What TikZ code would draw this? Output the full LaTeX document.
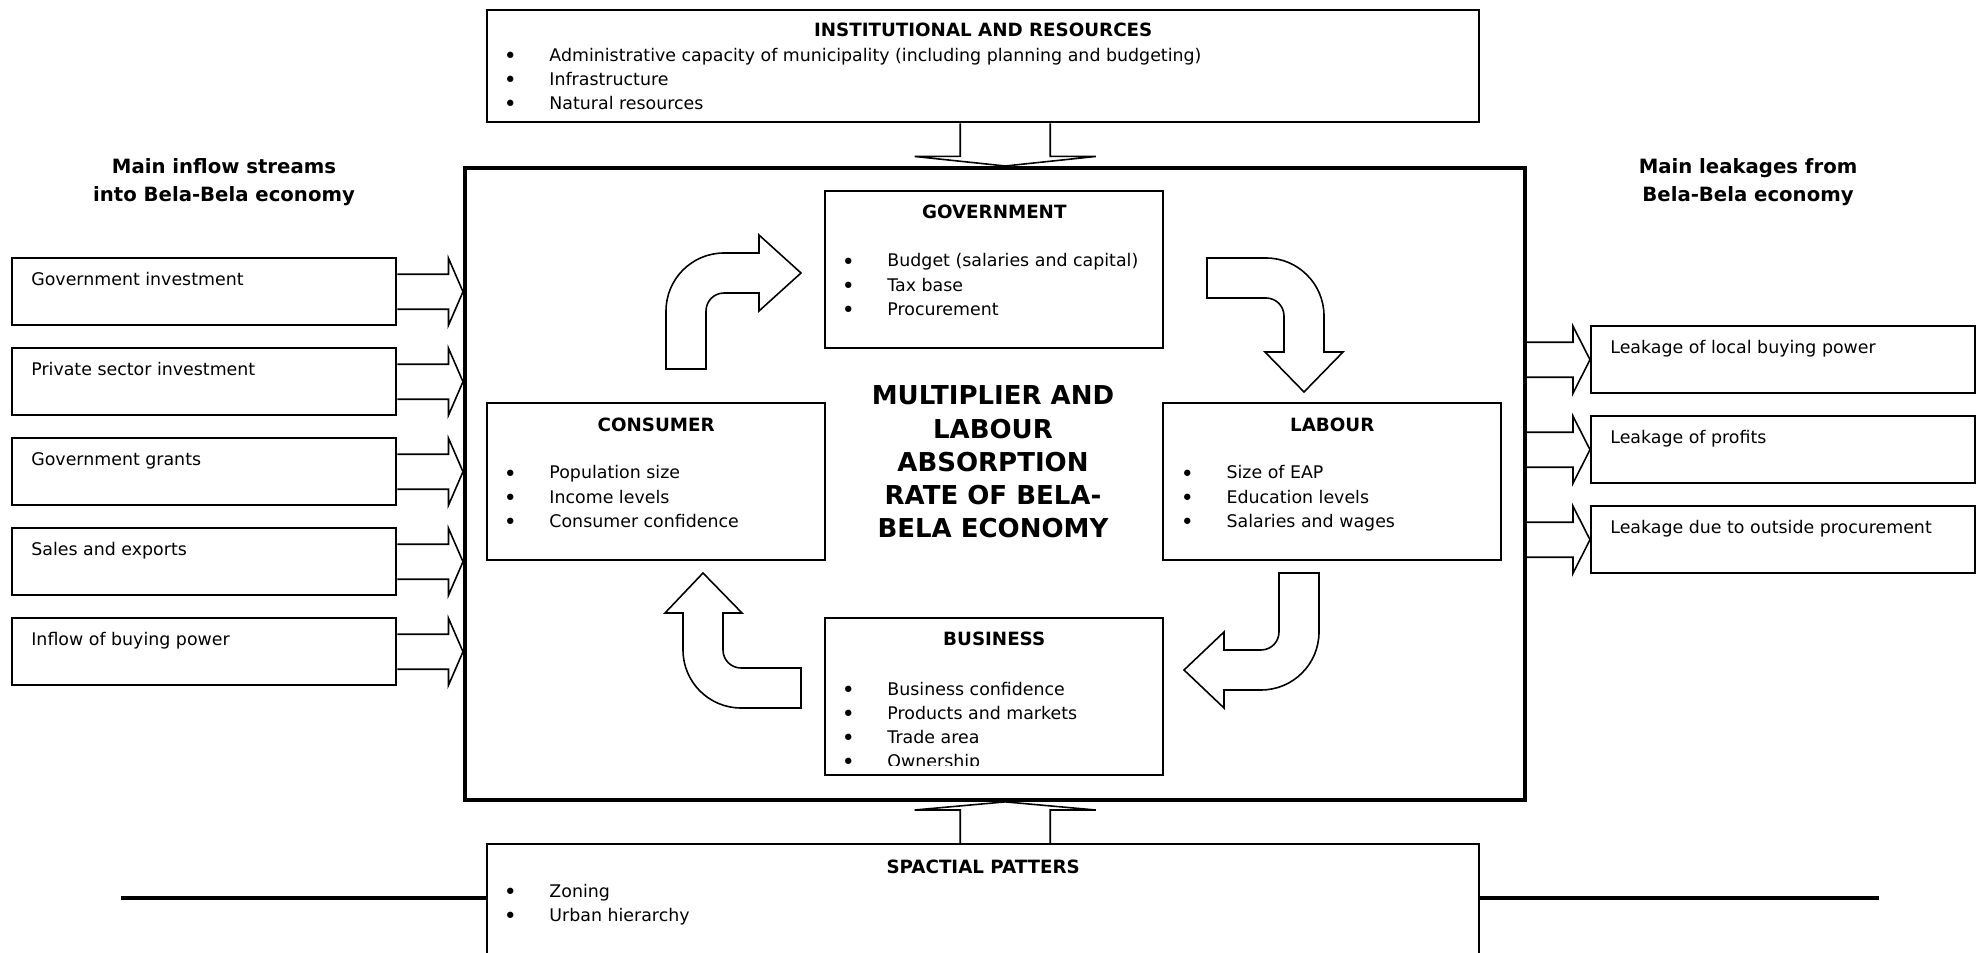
\documentclass[tikz,border=0pt]{standalone}
\usepackage{fontspec}
\setmainfont{DejaVu Sans}
\usetikzlibrary{calc}

\tikzset{
  box/.style={draw, line width=1.4pt, inner sep=0pt, anchor=north west},
  sidebox/.style={box, minimum width=76.8mm, minimum height=13.4mm},
  midbox/.style={box, minimum width=67.6mm, minimum height=31.4mm},
  widebox/.style={box, minimum width=198.4mm, minimum height=22.4mm},
  bigarrow/.style={draw, line width=0.9pt, line join=miter},
  boxtitle/.style={inner sep=0pt, anchor=base, font=\fontsize{10.4}{12.5}\selectfont\bfseries},
  boxtext/.style={inner sep=0pt, anchor=base west, font=\fontsize{9.9}{13.66}\selectfont},
  header/.style={inner sep=0pt, anchor=base, font=\fontsize{11.2}{15.8}\selectfont\bfseries},
}
\newcommand{\bul}[1]{\makebox[26pt][l]{\raisebox{-1.3pt}{\fontsize{12.5}{12.5}\selectfont\textbullet}}#1}
\newcommand{\blist}[1]{\begin{tabular}[t]{@{}l@{}}#1\end{tabular}}

\begin{document}
\begin{tikzpicture}[x=0.2mm,y=-0.2mm]
\useasboundingbox (0,0) rectangle (1984,953);
\clip (0,0) rectangle (1984,953);

% central frame
\node[box, line width=2.2pt, minimum width=212mm, minimum height=126.4mm] (main) at (463,166) {};
\node[inner sep=0pt, anchor=base, font=\fontsize{14.8}{18.9}\selectfont\bfseries] (mult) at (993,405)
  {\begin{tabular}[t]{@{}c@{}}MULTIPLIER AND\\LABOUR\\ABSORPTION\\RATE OF BELA-\\BELA ECONOMY\end{tabular}};

% institutional box on top
\node[widebox] (inst) at (486,9) {};
\node[boxtitle] (instt) at ($(inst.north)+(0,27.6)$) {INSTITUTIONAL AND RESOURCES};
\node[boxtext] (instl) at ($(inst.north west)+(17.4,52.7)$)
  {\blist{\bul{Administrative capacity of municipality (including planning and budgeting)}\\
          \bul{Infrastructure}\\ \bul{Natural resources}}};

% spatial box at the bottom
\coordinate (ll) at (121,898);
\coordinate (rr) at (1879,898);
\node[widebox, minimum height=40mm] (spat) at (486,843) {};
\draw[line width=2.2pt] (ll) -- (ll -| spat.west);
\draw[line width=2.2pt] (rr) -- (rr -| spat.east);
\node[boxtitle] (spatt) at ($(spat.north)+(0,30.6)$) {SPACTIAL PATTERS};
\node[boxtext] (spatl) at ($(spat.north west)+(17.4,54)$)
  {\blist{\bul{Zoning}\\ \bul{Urban hierarchy}}};

% the four sectors
\node[midbox] (gov) at (824,190) {};
\node[boxtitle] (govt) at ($(gov.north)+(0,29)$) {GOVERNMENT};
\node[boxtext] (govl) at ($(gov.north west)+(17.4,77)$)
  {\blist{\bul{Budget (salaries and capital)}\\ \bul{Tax base}\\ \bul{Procurement}}};

\node[midbox] (cons) at (486,402) {};
\node[boxtitle] (const) at ($(cons.north)+(0,29.6)$) {CONSUMER};
\node[boxtext] (consl) at ($(cons.north west)+(17.4,77)$)
  {\blist{\bul{Population size}\\ \bul{Income levels}\\ \bul{Consumer confidence}}};

\node[midbox] (lab) at (1162,402) {};
\node[boxtitle] (labt) at ($(lab.north)+(0,29.6)$) {LABOUR};
\node[boxtext] (labl) at ($(lab.north west)+(18.5,77)$)
  {\blist{\bul{Size of EAP}\\ \bul{Education levels}\\ \bul{Salaries and wages}}};

\node[midbox] (bus) at (824,617) {};
\node[boxtitle] (bust) at ($(bus.north)+(0,29)$) {BUSINESS};
\begin{scope}
  \clip (bus.north west) rectangle ($(bus.north east)+(0,148)$);
  \node[boxtext] (busl) at ($(bus.north west)+(17.4,78)$)
    {\blist{\bul{Business confidence}\\ \bul{Products and markets}\\ \bul{Trade area}\\ \bul{Ownership}}};
\end{scope}

% headers
\node[header] (inhead) at (224,174)
  {\begin{tabular}[t]{@{}c@{}}Main inflow streams\\into Bela-Bela economy\end{tabular}};
\node[header] (outhead) at (1748,174)
  {\begin{tabular}[t]{@{}c@{}}Main leakages from\\Bela-Bela economy\end{tabular}};

% inflows
\foreach \txt [count=\i] in {Government investment, Private sector investment,
    Government grants, Sales and exports, Inflow of buying power}{
  \node[sidebox] (in\i) at (11,{257+90*(\i-1)}) {};
  \node[boxtext] (in\i t) at ($(in\i.north west)+(20,29)$) {\txt};
  \draw[bigarrow] ($(in\i.east)+(0,-17.5)$) -- ++(51,0) -- ++(0,-16) -- (in\i.east -| main.west)
    -- ($(in\i.east)+(51,33.5)$) -- ++(0,-16) -- ($(in\i.east)+(0,17.5)$);
}

% leakages
\foreach \txt [count=\i] in {Leakage of local buying power, Leakage of profits,
    Leakage due to outside procurement}{
  \node[sidebox] (out\i) at (1590,{325+90*(\i-1)}) {};
  \node[boxtext] (out\i t) at ($(out\i.north west)+(20,29)$) {\txt};
  \coordinate (o\i) at (out\i.west -| main.east);
  \draw[bigarrow] ($(o\i)+(0,-17.5)$) -- ($(out\i.west)+(-17,-17.5)$) -- ++(0,-16) -- (out\i.west)
    -- ($(out\i.west)+(-17,33.5)$) -- ++(0,-16) -- ($(o\i)+(0,17.5)$);
}

% arrows from top and bottom box
\coordinate (ta) at ($(inst.south)+(22,0)$);
\draw[bigarrow] ($(ta)+(-45,0)$) -- ++(0,33) -- ++(-45.5,0) -- (ta |- main.north)
  -- ($(ta)+(90.5,33)$) -- ++(-45.5,0) -- ($(ta)+(45,0)$);
\coordinate (ba) at ($(spat.north)+(22,0)$);
\draw[bigarrow] ($(ba)+(-45,0)$) -- ++(0,-33) -- ++(-45.5,0) -- (ba |- main.south)
  -- ($(ba)+(90.5,-33)$) -- ++(-45.5,0) -- ($(ba)+(45,0)$);

% the circular flow
\draw[bigarrow] (666,369) -- (666,311) arc[start angle=180, end angle=270, radius=58]
  -- (759,253) -- (759,235) -- (801,273) -- (759,311) -- (759,293) -- (724,293)
  arc[start angle=270, end angle=180, radius=18] -- (706,369) -- cycle;
\draw[bigarrow] (1207,258) -- (1266,258) arc[start angle=270, end angle=360, radius=58]
  -- (1324,352) -- (1343,352) -- (1304,392) -- (1265,352) -- (1284,352) -- (1284,316)
  arc[start angle=0, end angle=-90, radius=18] -- (1207,298) -- cycle;
\draw[bigarrow] (1279,573) -- (1319,573) -- (1319,632) arc[start angle=0, end angle=90, radius=58]
  -- (1224,690) -- (1224,708) -- (1184,670) -- (1224,632) -- (1224,650) -- (1261,650)
  arc[start angle=90, end angle=0, radius=18] -- cycle;
\draw[bigarrow] (801,668) -- (741,668) arc[start angle=90, end angle=180, radius=18]
  -- (723,613) -- (742,613) -- (703,573) -- (665,613) -- (683,613) -- (683,650)
  arc[start angle=180, end angle=90, radius=58] -- (801,708) -- cycle;
\end{tikzpicture}
\end{document}
